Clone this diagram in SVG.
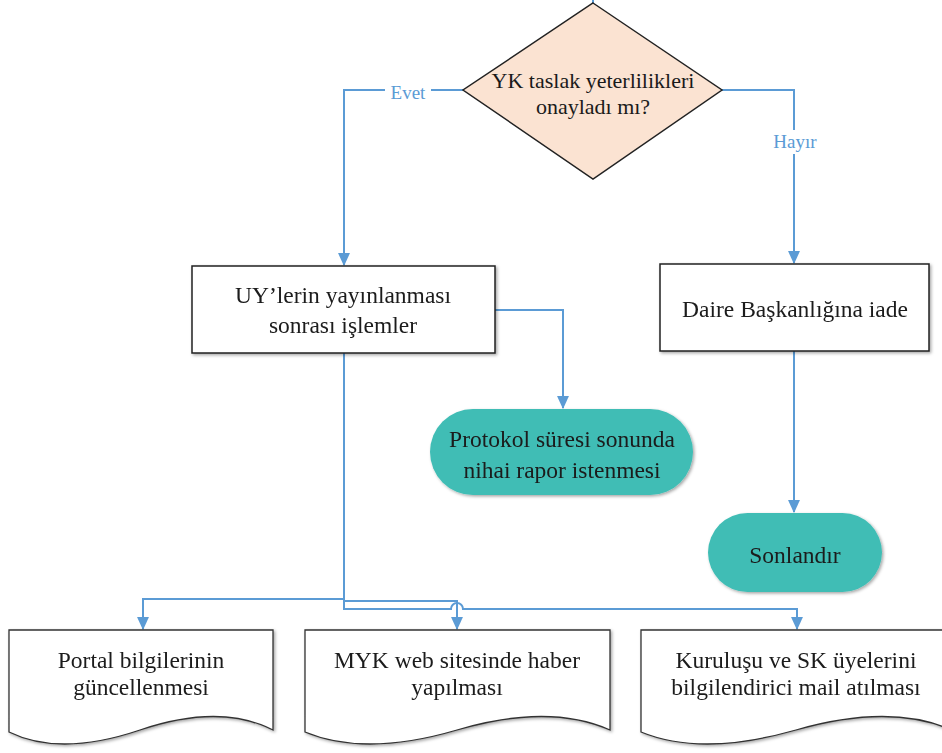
<svg xmlns="http://www.w3.org/2000/svg" width="942" height="753" viewBox="0 0 942 753">
<defs>
<style>
.t{font-family:"Liberation Serif","Times New Roman",serif;font-size:23.5px;fill:#1a1a1a;text-anchor:middle}
.td{font-size:22px}
.lbl{font-family:"Liberation Serif","Times New Roman",serif;font-size:19px;fill:#5B9BD5;text-anchor:middle}
.box{fill:#fff;stroke:#222;stroke-width:1.5}
.doc{fill:#fff;stroke:#333;stroke-width:1.3}
.term{fill:#40BDB5;stroke:none}
.dia{fill:#FBE3D2;stroke:#222;stroke-width:1.5}
.c{fill:none;stroke:#5B9BD5;stroke-width:2}
</style>
<marker id="ah" viewBox="0 0 12 12" refX="11" refY="6" markerWidth="13" markerHeight="13" orient="auto" markerUnits="userSpaceOnUse">
<path d="M0,0.5 L12,6 L0,11.5 z" fill="#5B9BD5"/>
</marker>
<filter id="sh" x="-5%" y="-5%" width="115%" height="120%">
<feDropShadow dx="1.5" dy="1.5" stdDeviation="1.5" flood-color="#000" flood-opacity="0.35"/>
</filter>
</defs>
<rect width="942" height="753" fill="#fff"/>

<g id="connectors">
<line class="c" x1="593" y1="-2" x2="593" y2="4"/>
<path class="c" d="M463,90 H344 V265" marker-end="url(#ah)"/>
<path class="c" d="M722,90 H794 V263" marker-end="url(#ah)"/>
<path class="c" d="M495,310 H563 V408" marker-end="url(#ah)"/>
<path class="c" d="M794,351 V512" marker-end="url(#ah)"/>
<path class="c" d="M344,353 V599 H143 V629" marker-end="url(#ah)"/>
<path class="c" d="M344,601 H457 V629" marker-end="url(#ah)"/>
<path class="c" d="M344,599 V609 H451 A6,6 0 0 1 463,609 H797 V629" marker-end="url(#ah)"/>
<rect x="385" y="82" width="46" height="20" fill="#fff"/>
<text class="lbl" x="408" y="99">Evet</text>
<rect x="769" y="130" width="52" height="24" fill="#fff"/>
<text class="lbl" x="795" y="148">Hayır</text>
</g>

<g id="decision">
<polygon class="dia" points="593,3 722,90 593,179 463,90"/>
<text class="t td" x="593" y="88">YK taslak yeterlilikleri</text>
<text class="t td" x="593" y="114">onayladı mı?</text>
</g>

<g id="uy" filter="url(#sh)">
<rect class="box" x="192" y="266" width="303" height="87"/>
<text class="t" x="343" y="303">UY’lerin yayınlanması</text>
<text class="t" x="343" y="333">sonrası işlemler</text>
</g>

<g id="daire" filter="url(#sh)">
<rect class="box" x="660" y="264" width="269" height="87"/>
<text class="t" x="795" y="317">Daire Başkanlığına iade</text>
</g>

<g id="protokol" filter="url(#sh)">
<rect class="term" x="430" y="409" width="263" height="86" rx="43" ry="43"/>
<text class="t" x="562" y="447">Protokol süresi sonunda</text>
<text class="t" x="562" y="478">nihai rapor istenmesi</text>
</g>

<g id="sonlandir" filter="url(#sh)">
<rect class="term" x="708" y="513" width="174" height="79" rx="39.5" ry="39.5"/>
<text class="t" x="795" y="563">Sonlandır</text>
</g>

<g id="portal" filter="url(#sh)">
<path class="doc" d="M9,630 H273 V730 Q220,703 140,730 T9,732 Z"/>
<text class="t" x="141" y="668">Portal bilgilerinin</text>
<text class="t" x="141" y="695">güncellenmesi</text>
</g>

<g id="myk" filter="url(#sh)">
<path class="doc" d="M305,630 H610 V730 Q549,703 457,730 T305,732 Z"/>
<text class="t" x="457" y="668">MYK web sitesinde haber</text>
<text class="t" x="457" y="695">yapılması</text>
</g>

<g id="kurulus" filter="url(#sh)">
<path class="doc" d="M641,630 H952 V730 Q890,703 796,730 T641,732 Z"/>
<text class="t" x="796" y="668">Kuruluşu ve SK üyelerini</text>
<text class="t" x="796" y="695">bilgilendirici mail atılması</text>
</g>
</svg>
